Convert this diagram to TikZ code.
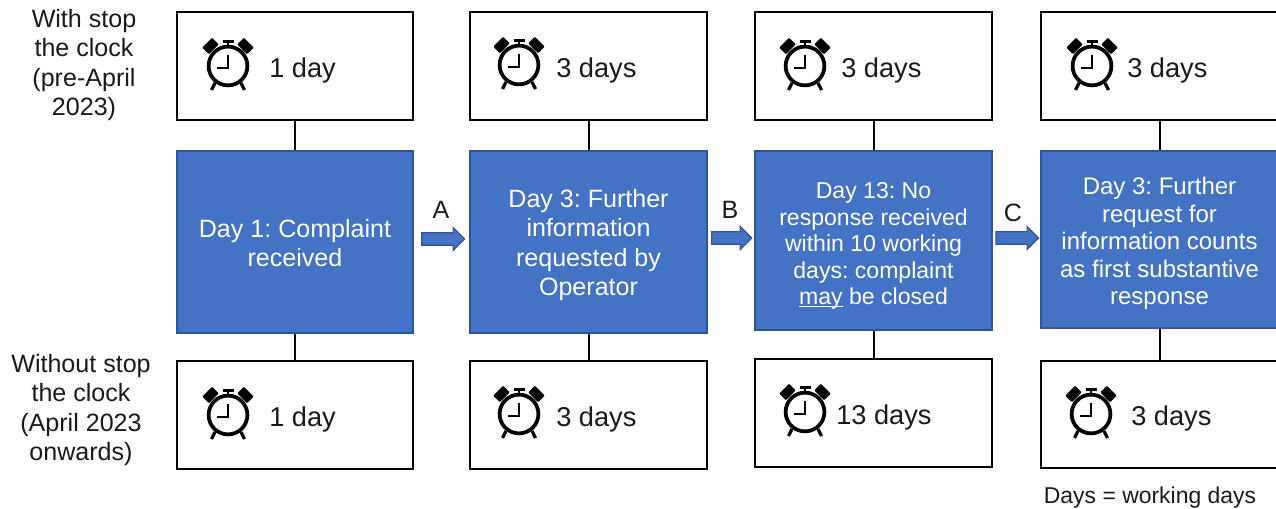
\documentclass[tikz,border=0pt]{standalone}
\usepackage{fontspec}
\setmainfont{Liberation Sans}
\usetikzlibrary{shapes.arrows}
\definecolor{blueF}{HTML}{4472C4}
\definecolor{blueD}{HTML}{2F5597}
\definecolor{txt}{HTML}{1A1A1A}
\def\ps{0.75pt}
\tikzset{
  x=0.75pt,y=0.75pt,
  timebox/.style={draw=black,line width=1.6pt,fill=white,inner sep=0pt},
  stagebox/.style={draw=blueD,line width=1.1pt,fill=blueF,inner sep=0pt},
  stagetext/.style={inner sep=0pt,text=white,align=center,font=\fontsize{18.8}{21.8}\selectfont},
  tlabel/.style={inner sep=0pt,text=txt,font=\fontsize{20.4}{24}\selectfont,anchor=west},
  sidelabel/.style={inner sep=0pt,text=txt,align=center,font=\fontsize{18.8}{21.8}\selectfont},
  letter/.style={inner sep=0pt,text=txt,font=\fontsize{18.8}{20}\selectfont},
  link/.style={draw=black,line width=1.5pt},
  stepper/.style={single arrow,draw=blueD,line width=0.9pt,fill=blueF,inner xsep=0pt,inner ysep=4.3pt,minimum width=16.6pt,single arrow head extend=3.8pt,single arrow tip angle=90},
  clock/.pic={
    \draw[black,line width=2.8pt] (0,0) circle (19.4);
    \draw[black,line width=2.1pt,line cap=butt] (0,11) -- (0,-2) -- (-11.5,-2);
    \fill[black,rotate around={45:(-17.5,20)},rounded corners=0.8pt] (-17.5-7,20-4.7) rectangle (-17.5+7,20+4.7);
    \fill[black,rotate around={-45:(17.5,20)},rounded corners=0.8pt] (17.5-7,20-4.7) rectangle (17.5+7,20+4.7);
    \draw[black,line width=2pt] (0,20) -- (0,24.5);
    \draw[black,line width=2pt] (-5.5,24.5) -- (5.5,24.5);
    \draw[black,line width=2.4pt] (-13,-17) -- (-16.5,-24);
    \draw[black,line width=2.4pt] (13,-17) -- (16.5,-24);
  }
}
\begin{document}
\begin{tikzpicture}
\frenchspacing
\useasboundingbox (0,0) rectangle (1276,-509);
\begin{scope}
\clip (0,0) rectangle (1276,-509);
% top row
\node[timebox,minimum width=236*\ps,minimum height=108*\ps] (t1) at (295,-66) {};
\node[timebox,minimum width=237*\ps,minimum height=108*\ps] (t2) at (588.5,-66) {};
\node[timebox,minimum width=237*\ps,minimum height=108*\ps] (t3) at (873.5,-66) {};
\node[timebox,minimum width=238*\ps,minimum height=108*\ps] (t4) at (1160,-66) {};
% middle row
\node[stagebox,minimum width=236*\ps,minimum height=182*\ps] (m1) at (295,-242) {};
\node[stagebox,minimum width=237*\ps,minimum height=182*\ps] (m2) at (588.5,-242) {};
\node[stagebox,minimum width=237*\ps,minimum height=179*\ps] (m3) at (873.5,-240.5) {};
\node[stagebox,minimum width=238*\ps,minimum height=177*\ps] (m4) at (1160,-239.5) {};
\node[stagetext] (mt1) at (295,-243) {Day 1: Complaint\\received};
\node[stagetext] (mt2) at (588.5,-245) {Day 3: Further\\information\\requested by\\Operator};
\node[stagetext,font=\fontsize{17.3}{19.9}\selectfont] (mt3) at (873.5,-245) {Day 13: No\\response received\\within 10 working\\days: complaint\\\underline{\smash{may}} be closed};
\node[stagetext,font=\fontsize{18}{20.6}\selectfont] (mt4) at (1159.5,-243.5) {Day 3: Further\\request for\\information counts\\as first substantive\\response};
% bottom row
\node[timebox,minimum width=236*\ps,minimum height=108*\ps] (b1) at (295,-415) {};
\node[timebox,minimum width=237*\ps,minimum height=108*\ps] (b2) at (588.5,-415) {};
\node[timebox,minimum width=237*\ps,minimum height=108*\ps] (b3) at (873.5,-413) {};
\node[timebox,minimum width=238*\ps,minimum height=107*\ps] (b4) at (1160,-414.5) {};
% connectors
\foreach \i in {1,2,3,4}{
  \draw[link] (t\i.south) -- (m\i.north);
  \draw[link] (m\i.south) -- (b\i.north);
}
% clocks
\pic at (228,-66) {clock};
\pic at (519,-65) {clock};
\pic at (805,-66) {clock};
\pic at (1092,-66) {clock};
\pic at (228,-415) {clock};
\pic at (519,-414) {clock};
\pic at (805,-412) {clock};
\pic at (1091,-414) {clock};
% times
\node[tlabel] (l1) at (269,-70) {1 day};
\node[tlabel] (l2) at (556,-70) {3 days};
\node[tlabel] (l3) at (841,-70) {3 days};
\node[tlabel] (l4) at (1127,-70) {3 days};
\node[tlabel] (l5) at (269,-419) {1 day};
\node[tlabel] (l6) at (556,-419) {3 days};
\node[tlabel] (l7) at (836,-417) {13 days};
\node[tlabel] (l8) at (1131,-418) {3 days};
% arrows
\node[stepper,minimum height=32pt] (a1) at (440,-239) {};
\node[letter] (la) at (441,-210) {A};
\node[stepper,minimum height=30pt] (a2) at (728.5,-238) {};
\node[letter] (lb) at (730,-210) {B};
\node[stepper,minimum height=32pt] (a3) at (1014,-238) {};
\node[letter] (lc) at (1013,-213) {C};
% side labels
\node[sidelabel] (s1) at (84,-65) {With stop\\the clock\\(pre-April\\2023)};
\node[sidelabel] (s2) at (81,-410) {Without stop\\the clock\\(April 2023\\onwards)};
\node[inner sep=0pt,text=txt,font=\fontsize{17.2}{20}\selectfont] (n) at (1150,-498) {Days = working days};
\end{scope}
\end{tikzpicture}
\end{document}
